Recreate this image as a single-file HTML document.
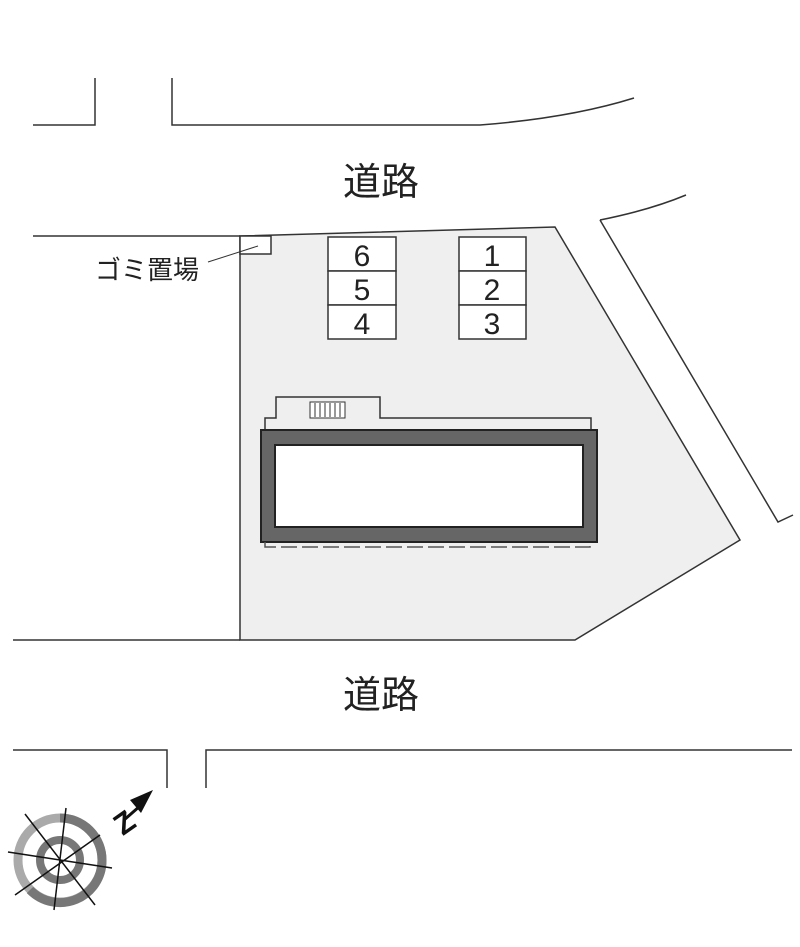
<!DOCTYPE html>
<html><head><meta charset="utf-8"><style>
body{margin:0;background:#fff}
svg text{font-family:"Liberation Sans","Noto Sans CJK JP",sans-serif}
</style></head><body>
<svg width="800" height="942" viewBox="0 0 800 942" xmlns="http://www.w3.org/2000/svg">
<g fill="none" stroke="#333" stroke-width="1.5">
<path d="M33 125 H95 V78"/>
<path d="M172 78 V125 H480 Q570 118 634 98"/>
<path d="M600 220 Q650 210 686 195"/>
<path d="M600 220 L778 522 L793 515"/>
<path d="M13 750 H167 V788"/>
<path d="M206 788 V750 H792"/>
</g>
<path d="M240 236 L555 227 L740 540 L575 640 L240 640 Z" fill="#efefef" stroke="#333" stroke-width="1.5"/>
<g stroke="#333" stroke-width="1.5" fill="none">
<path d="M33 236 H240"/>
<path d="M13 640 H240"/>
</g>
<rect x="240" y="236" width="31" height="18" fill="#fff" stroke="#333" stroke-width="1.5"/>
<line x1="208" y1="262" x2="258" y2="246" stroke="#333" stroke-width="1"/>
<g fill="#fff" stroke="#333" stroke-width="1.5">
<rect x="328" y="237" width="68" height="34"/><rect x="328" y="271" width="68" height="34"/><rect x="328" y="305" width="68" height="34"/>
<rect x="459" y="237" width="67" height="34"/><rect x="459" y="271" width="67" height="34"/><rect x="459" y="305" width="67" height="34"/>
</g>
<g font-size="30" text-anchor="middle" fill="#222">
<text x="362" y="266">6</text><text x="362" y="300">5</text><text x="362" y="334">4</text>
<text x="492" y="266">1</text><text x="492" y="300">2</text><text x="492" y="334">3</text>
</g>
<path d="M265 432 V418 H276 V397 H380 V418 H591 V432" fill="#efefef" stroke="#333" stroke-width="1.5"/>
<rect x="310" y="402" width="35" height="16" fill="#fff" stroke="#333" stroke-width="1"/>
<g stroke="#333" stroke-width="1"><path d="M315 403V417M320 403V417M325 403V417M330 403V417M335 403V417M340 403V417"/></g>
<rect x="261" y="430" width="336" height="112" fill="#666" stroke="#222" stroke-width="2"/>
<rect x="275" y="445" width="308" height="82" fill="#fff" stroke="#222" stroke-width="2"/>
<path d="M265 542 V547 H590 V542" fill="none" stroke="#555" stroke-width="1.5" stroke-dasharray="16 5"/>
<g font-size="38" text-anchor="middle" fill="#222">
<text x="381" y="195">道路</text>
<text x="381" y="708">道路</text>
</g>
<text x="147" y="279" font-size="26" text-anchor="middle" fill="#222">ゴミ置場</text>
<g>
<circle cx="60" cy="860" r="42" fill="none" stroke="#aaa" stroke-width="9"/>
<path d="M60 818 A42 42 0 0 1 102 860 A42 42 0 0 1 30 890" fill="none" stroke="#777" stroke-width="9"/>
<circle cx="60" cy="860" r="20" fill="none" stroke="#777" stroke-width="8"/>
<g stroke="#111" stroke-width="1.5">
<line x1="25" y1="814" x2="95" y2="905"/>
<line x1="66" y1="808" x2="54" y2="910"/>
<line x1="8" y1="852" x2="112" y2="868"/>
<line x1="15" y1="895" x2="100" y2="835"/>
</g>
<polygon points="153,790 130,800 141,813" fill="#111"/>
<line x1="124" y1="820" x2="140" y2="806" stroke="#111" stroke-width="3"/>
<text x="117" y="838" font-size="30" font-weight="bold" fill="#111" transform="rotate(-35 117 828)">Z</text>
</g>
</svg>
</body></html>
